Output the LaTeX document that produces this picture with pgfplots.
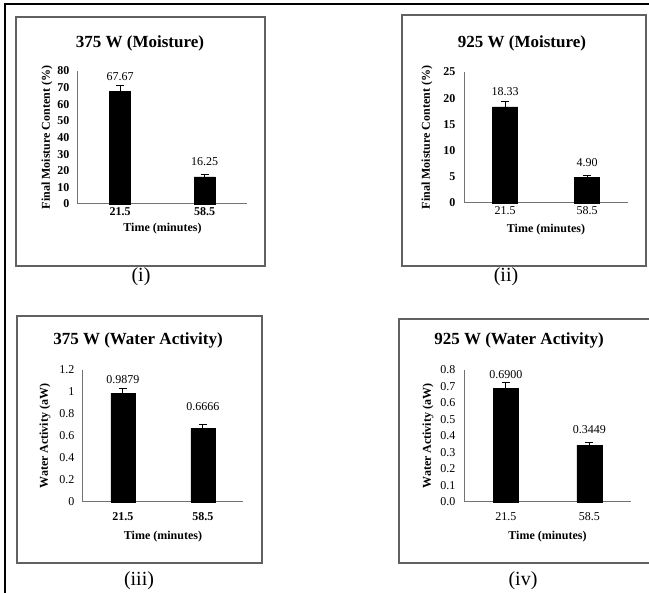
\documentclass[border=0pt]{standalone}
\usepackage{fontspec}
\setmainfont{Liberation Serif}
\usepackage{pgfplots}
\usepackage{pgfplotstable}
\pgfplotsset{compat=1.18}

\definecolor{axgray}{gray}{0.45}
\definecolor{boxgray}{gray}{0.38}

\newcommand{\ticksz}{\fontsize{12}{14}\selectfont}
\newcommand{\valsz}{\fontsize{12}{14}\selectfont}
\newcommand{\titsz}{\fontsize{17}{20}\selectfont\bfseries}
\newcommand{\subsz}{\fontsize{20}{22}\selectfont}

% x = category index, y = mean, e = error, sh = label offset above bar top (pt)
\pgfplotstableread{
x y e sh lab
0 67.67 3.5 15 67.67
1 16.25 1.2 15 16.25
}\dataA
\pgfplotstableread{
x y e sh lab
0 18.33 1.1 15 18.33
1 4.90 0.3 15 4.90
}\dataB
\pgfplotstableread{
x y e sh lab
0 0.9879 0.045 14 0.9879
1 0.6666 0.034 22 0.6666
}\dataC
\pgfplotstableread{
x y e sh lab
0 0.6900 0.037 14 0.6900
1 0.3449 0.016 15 0.3449
}\dataD

\pgfplotsset{
  panel/.style={
    scale only axis,
    anchor=south west,
    axis x line=bottom, axis y line=left,
    axis line style={-, axgray, line width=1pt},
    major tick length=0pt,
    xmin=-0.5, xmax=1.5, ymin=0,
    xtick={0,1}, xticklabels={21.5,58.5},
    clip=false,
    tick label style={font=\ticksz, black},
    yticklabel style={xshift=-5pt},
    label style={font=\ticksz\bfseries},
    xlabel={Time (minutes)},
  },
  bars/.style={
    ybar, bar width=#1, fill=black, draw=black, line width=0.5pt,
    error bars/.cd, y dir=plus, y explicit,
    error bar style={line width=1pt, black},
    error mark options={rotate=90, mark size=4pt, line width=1pt, black},
  },
  vals/.style={
    draw=none, mark=none, nodes near coords, point meta=explicit symbolic,
    visualization depends on={\thisrow{sh} \as \sh},
    every node near coord/.append style={anchor=center, yshift=\sh pt, font=\valsz, black},
  },
}

\begin{document}
\begin{tikzpicture}
\useasboundingbox (0pt,0pt) rectangle (649pt,-593pt);
\clip (0pt,0pt) rectangle (649pt,-593pt);

% frames
\draw[black, line width=1.8pt] (5pt,-600pt) -- (5pt,-4pt) -- (660pt,-4pt);
\draw[boxgray, line width=1.2pt] (16pt,-17pt) rectangle (265pt,-266pt);
\draw[boxgray, line width=1.2pt] (402pt,-15pt) rectangle (646pt,-266pt);
\draw[boxgray, line width=1.2pt] (17pt,-316pt) rectangle (262pt,-563pt);
\draw[boxgray, line width=1.2pt] (660pt,-319pt) -- (399pt,-319pt) -- (399pt,-563pt) -- (660pt,-563pt);

% titles
\node[font=\titsz] at (140pt,-43pt) {375 W (Moisture)};
\node[font=\titsz] at (522pt,-43pt) {925 W (Moisture)};
\node[font=\titsz] at (138pt,-340pt) {375 W (Water Activity)};
\node[font=\titsz] at (519pt,-340pt) {925 W (Water Activity)};

% sub labels
\node[font=\subsz] at (141pt,-277pt) {(i)};
\node[font=\subsz] at (506pt,-277pt) {(ii)};
\node[font=\subsz] at (139pt,-581pt) {(iii)};
\node[font=\subsz] at (523pt,-581pt) {(iv)};

% (i)
\begin{axis}[panel, at={(78pt,-204pt)}, width=169pt, height=133pt,
  ymax=80, ytick={0,10,20,30,40,50,60,70,80},
  yticklabels={0,10,20,30,40,50,60,70,80},
  yticklabel style={font=\ticksz\bfseries},
  xticklabel style={font=\ticksz\bfseries},
  ylabel={Final Moisture Content (\%)},
  ylabel style={at={(axis description cs:-0.183,0.5)}, anchor=center},
  xlabel style={at={(axis description cs:0.5,-0.188)}, anchor=center}]
\addplot[bars=21pt] table[x=x, y=y, y error=e] \dataA;
\addplot[vals] table[x=x, y=y, meta=lab] \dataA;
\end{axis}

% (ii)
\begin{axis}[panel, at={(464pt,-203pt)}, width=164pt, height=131pt,
  ymax=25, ytick={0,5,10,15,20,25},
  yticklabels={0,5,10,15,20,25},
  yticklabel style={font=\ticksz\bfseries},
  ylabel={Final Moisture Content (\%)},
  ylabel style={at={(axis description cs:-0.226,0.5)}, anchor=center},
  xlabel style={at={(axis description cs:0.5,-0.206)}, anchor=center}]
\addplot[bars=25pt] table[x=x, y=y, y error=e] \dataB;
\addplot[vals] table[x=x, y=y, meta=lab] \dataB;
\end{axis}

% (iii)
\begin{axis}[panel, at={(83pt,-502pt)}, width=160pt, height=132pt,
  ymax=1.2, ytick={0,0.2,0.4,0.6,0.8,1,1.2},
  yticklabels={0,0.2,0.4,0.6,0.8,1,1.2},
  xticklabel style={font=\ticksz\bfseries, yshift=-7pt},
  ylabel={Water Activity (aW)},
  ylabel style={at={(axis description cs:-0.2375,0.5)}, anchor=center},
  xlabel style={at={(axis description cs:0.5,-0.265)}, anchor=center}]
\addplot[bars=24pt] table[x=x, y=y, y error=e] \dataC;
\addplot[vals] table[x=x, y=y, meta=lab] \dataC;
\end{axis}

% (iv)
\begin{axis}[panel, at={(464pt,-502pt)}, width=167pt, height=132pt,
  ymax=0.8, ytick={0,0.1,0.2,0.3,0.4,0.5,0.6,0.7,0.8},
  yticklabels={0.0,0.1,0.2,0.3,0.4,0.5,0.6,0.7,0.8},
  xticklabel style={yshift=-7pt},
  ylabel={Water Activity (aW)},
  ylabel style={at={(axis description cs:-0.216,0.5)}, anchor=center},
  xlabel style={at={(axis description cs:0.5,-0.265)}, anchor=center}]
\addplot[bars=25pt] table[x=x, y=y, y error=e] \dataD;
\addplot[vals] table[x=x, y=y, meta=lab] \dataD;
\end{axis}
\end{tikzpicture}
\end{document}
